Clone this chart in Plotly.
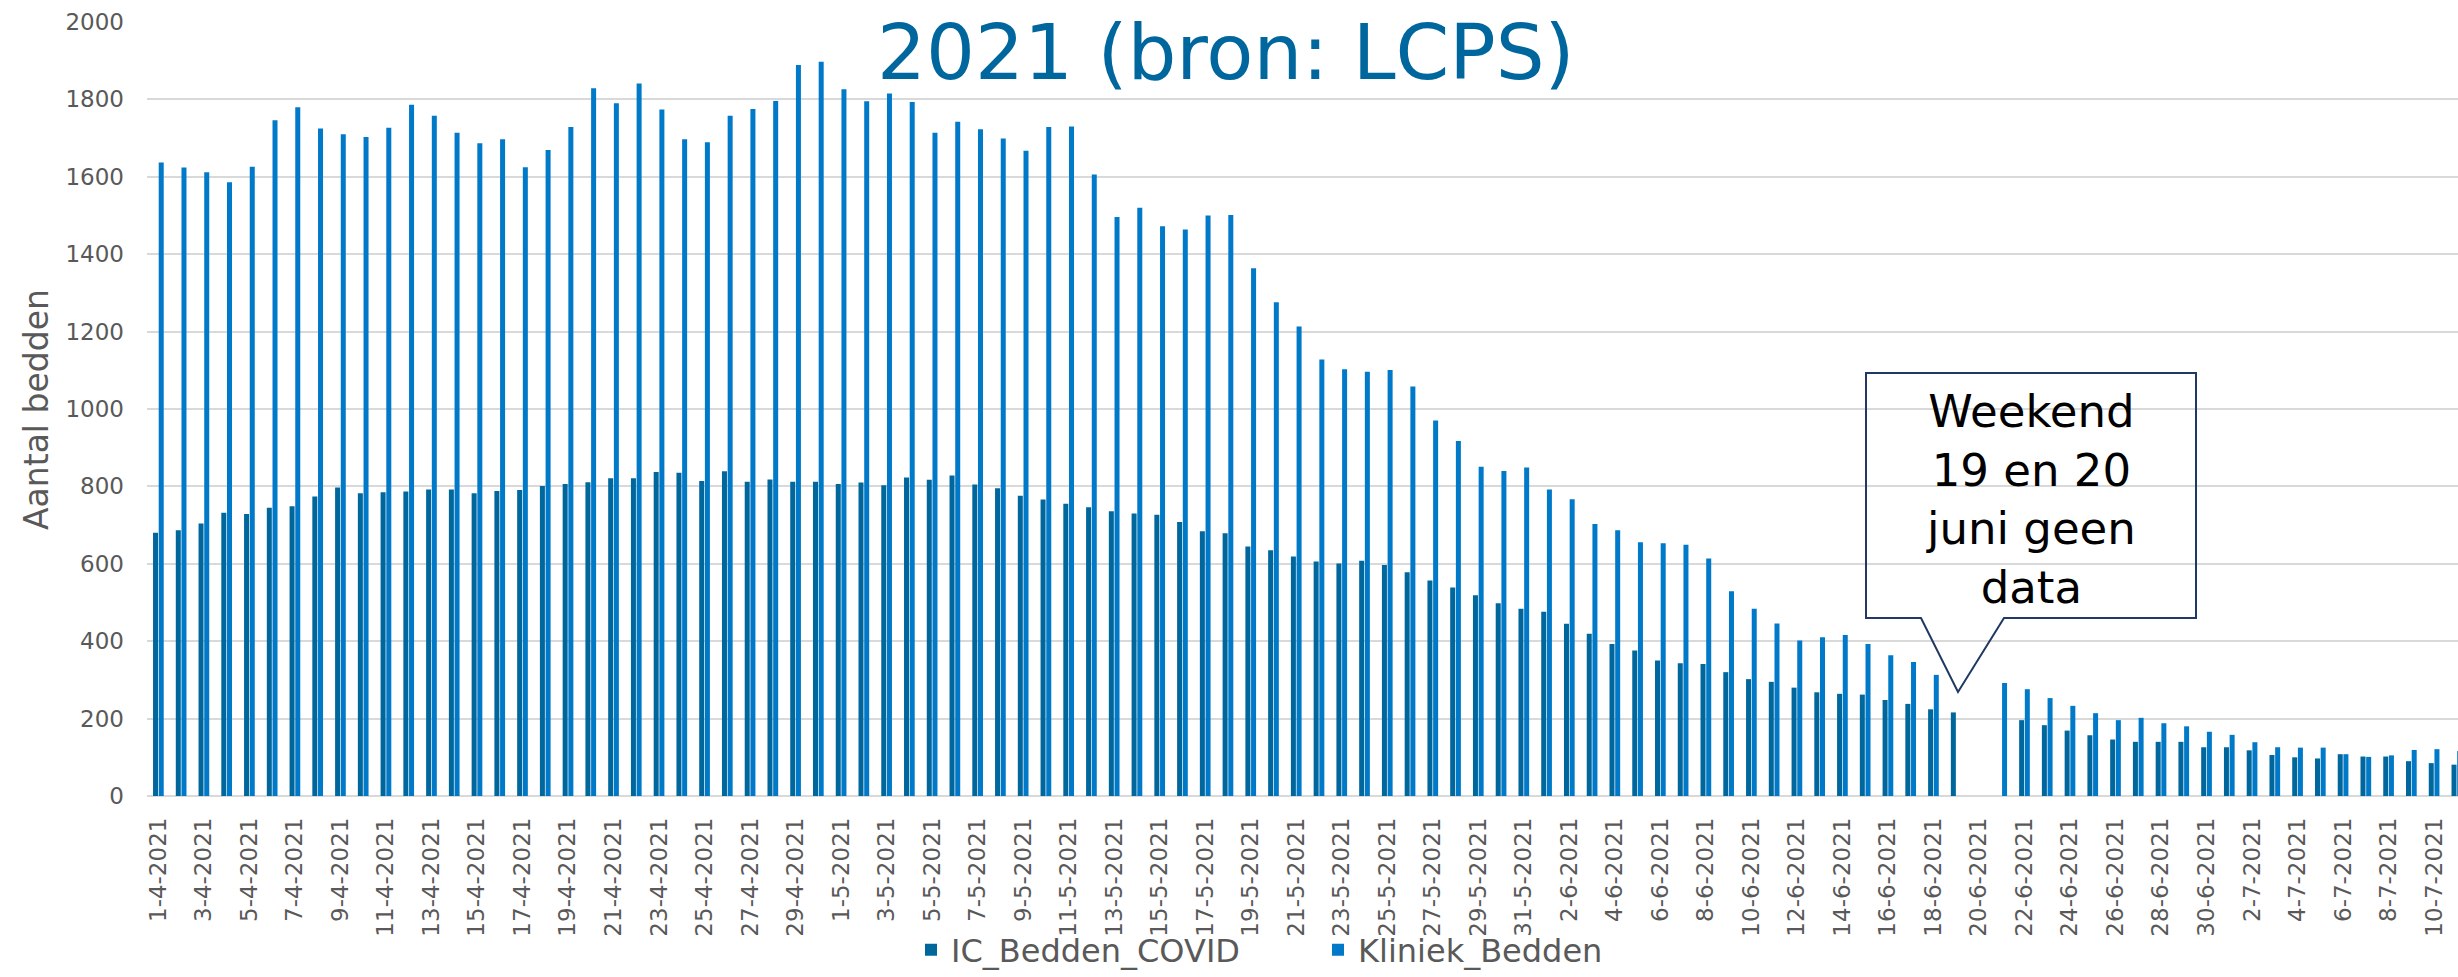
import pandas as pd
import plotly.graph_objects as go

# Categories: daily dates 1 April 2021 .. 11 July 2021
dates = [f"{d.day}-{d.month}-{d.year}" for d in pd.date_range("2021-04-01", "2021-07-11", freq="D")]

ic_bedden = [680, 687, 704, 732, 729, 745, 749, 774, 797, 782,
             785, 787, 792, 792, 782, 788, 791, 801, 806, 811,
             821, 821, 837, 835, 814, 839, 812, 818, 812, 812,
             806, 810, 803, 823, 817, 828, 805, 795, 776, 766,
             755, 746, 736, 730, 727, 708, 684, 679, 645, 635,
             619, 606, 601, 608, 597, 578, 557, 539, 519, 498,
             484, 476, 445, 419, 393, 376, 350, 343, 341, 320,
             302, 295, 280, 268, 264, 262, 248, 238, 224, 216,
             None, None, 196, 183, 169, 157, 146, 140, 140, 140,
             126, 126, 118, 106, 100, 97, 108, 102, 102, 90,
             85, 81]

kliniek_bedden = [1637, 1624, 1612, 1586, 1626, 1746, 1780, 1725, 1710, 1703,
                  1727, 1786, 1758, 1714, 1687, 1697, 1625, 1669, 1729, 1829,
                  1790, 1841, 1774, 1697, 1689, 1758, 1775, 1796, 1889, 1897,
                  1826, 1795, 1815, 1793, 1714, 1742, 1723, 1699, 1667, 1729,
                  1730, 1606, 1496, 1520, 1472, 1464, 1500, 1501, 1364, 1276,
                  1213, 1128, 1103, 1096, 1101, 1058, 970, 917, 851, 840,
                  849, 792, 767, 703, 687, 656, 653, 649, 614, 529,
                  484, 446, 402, 410, 416, 393, 364, 346, 313, None,
                  None, 292, 276, 253, 233, 214, 196, 202, 188, 180,
                  166, 158, 139, 126, 125, 125, 108, 101, 105, 119,
                  121, 116]

series_names = ["IC_Bedden_COVID", "Kliniek_Bedden"]
series_colors = ["#00679D", "#0079C8"]
title_line1 = "Aantal bezette bedden gedurende april - juli"
title_line2 = "2021 (bron: LCPS)"
callout_text = "Weekend<br>19 en 20<br>juni geen<br>data"
y_title = "Aantal bedden"

FONT = "DejaVu Sans, Verdana, sans-serif"
GREY = "#595959"
TITLE_BLUE = "#00679E"

fig = go.Figure()
for name, vals, col in zip(series_names, [ic_bedden, kliniek_bedden], series_colors):
    fig.add_trace(go.Bar(x=dates, y=vals, name=name, marker=dict(color=col, line=dict(width=0))))

W, H = 2458, 977
ML, MR, MT, MB = 147, 0, 22, 181
PW, PH = W - ML - MR, H - MT - MB

def px(xp):
    return (xp - ML) / PW

def py(yp):
    return (H - MB - yp) / PH

# callout box with pointer (paper coordinates)
bx0, bx1, byt, byb = px(1866), px(2196), py(373), py(618)
pb0, pb1, tipx, tipy = px(1921), px(2004), px(1958), py(692)
path = (f"M {bx0},{byt} L {bx1},{byt} L {bx1},{byb} L {pb1},{byb} L {tipx},{tipy} "
        f"L {pb0},{byb} L {bx0},{byb} Z")

fig.update_layout(
    width=W, height=H,
    margin=dict(l=ML, r=MR, t=MT, b=MB, autoexpand=False),
    plot_bgcolor="white", paper_bgcolor="white",
    barmode="group", bargap=0.5, bargroupgap=0.12,
    font=dict(family=FONT, color=GREY),
    xaxis=dict(type="category", range=[-0.5, 101.05], tickmode="array",
               tickvals=dates[::2], ticktext=dates[::2], tickangle=-90,
               tickfont=dict(size=23, color=GREY), showgrid=False, showline=False,
               ticks="", ticklabelstandoff=16, automargin=False),
    yaxis=dict(range=[0, 2000], dtick=200, tickformat="d", showgrid=True,
               gridcolor="#d9d9d9", gridwidth=2, zeroline=True, zerolinecolor="#d9d9d9",
               zerolinewidth=2, showline=False, ticks="",
               tickfont=dict(size=23, color=GREY), ticklabelstandoff=22, automargin=False),
    legend=dict(orientation="h", x=px(911), xanchor="left", y=py(950), yanchor="middle",
                font=dict(size=32, color=GREY), bgcolor="rgba(0,0,0,0)",
                entrywidth=362, entrywidthmode="pixels"),
    shapes=[dict(type="path", path=path, xref="paper", yref="paper",
                 line=dict(color="#1F3864", width=2), fillcolor="rgba(0,0,0,0)", layer="above")],
    annotations=[
        dict(text=title_line1, xref="paper", yref="paper", x=px(1226), y=py(1),
             xanchor="center", yanchor="bottom", showarrow=False,
             font=dict(size=77, color=TITLE_BLUE, family=FONT)),
        dict(text=title_line2, xref="paper", yref="paper", x=px(1226), y=py(99),
             xanchor="center", yanchor="bottom", showarrow=False,
             font=dict(size=77, color=TITLE_BLUE, family=FONT)),
        dict(text=y_title, xref="paper", yref="paper", x=px(37), y=py(410),
             xanchor="center", yanchor="middle", textangle=-90, showarrow=False,
             font=dict(size=33, color=GREY, family=FONT)),
        dict(text=callout_text, xref="paper", yref="paper", x=px(2031), y=py(499),
             xanchor="center", yanchor="middle", showarrow=False, align="center",
             font=dict(size=45, color="black", family=FONT)),
    ],
)

fig.write_html("out.html", config={"displayModeBar": False},
               post_script="document.body.style.margin='0';document.body.style.overflow='hidden';")
